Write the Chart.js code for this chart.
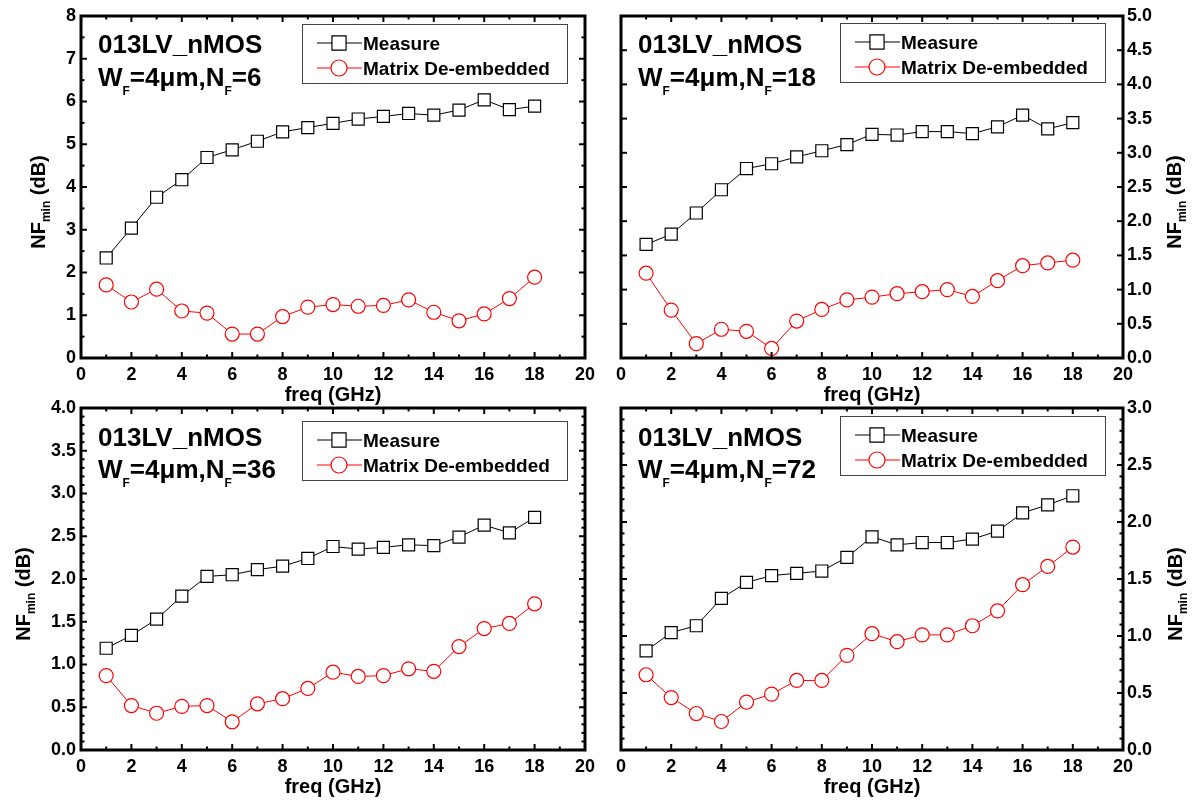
<!DOCTYPE html>
<html>
<head>
<meta charset="utf-8">
<script src="https://cdn.jsdelivr.net/npm/chart.js@4.4.1/dist/chart.umd.min.js"></script>
<style>
  html, body { margin: 0; padding: 0; background: #fff; width: 1204px; height: 807px; overflow: hidden; }
  canvas { position: absolute; }
</style>
</head>
<body>
<canvas id="c1" width="604" height="410" style="left:0px;top:0px"></canvas>
<canvas id="c2" width="604" height="410" style="left:600px;top:0px"></canvas>
<canvas id="c3" width="604" height="417" style="left:0px;top:390px"></canvas>
<canvas id="c4" width="604" height="417" style="left:600px;top:390px"></canvas>
<script>
// ---------------- data ----------------
const freqGHz = [1, 2, 3, 4, 5, 6, 7, 8, 9, 10, 11, 12, 13, 14, 15, 16, 17, 18];

const measureNF6  = [2.34, 3.04, 3.76, 4.17, 4.69, 4.87, 5.07, 5.29, 5.39, 5.49, 5.59, 5.65, 5.72, 5.68, 5.80, 6.04, 5.81, 5.89];
const deembedNF6  = [1.71, 1.31, 1.61, 1.10, 1.05, 0.56, 0.56, 0.97, 1.19, 1.25, 1.21, 1.23, 1.36, 1.07, 0.87, 1.03, 1.39, 1.89];

const measureNF18 = [1.66, 1.81, 2.12, 2.46, 2.77, 2.84, 2.94, 3.03, 3.12, 3.27, 3.26, 3.31, 3.31, 3.28, 3.38, 3.55, 3.35, 3.44];
const deembedNF18 = [1.24, 0.70, 0.21, 0.42, 0.39, 0.14, 0.54, 0.71, 0.85, 0.89, 0.94, 0.97, 1.00, 0.90, 1.13, 1.35, 1.39, 1.43];

const measureNF36 = [1.19, 1.34, 1.53, 1.80, 2.03, 2.05, 2.11, 2.15, 2.24, 2.38, 2.35, 2.37, 2.40, 2.39, 2.49, 2.63, 2.54, 2.72];
const deembedNF36 = [0.87, 0.52, 0.43, 0.51, 0.52, 0.33, 0.54, 0.60, 0.72, 0.91, 0.86, 0.87, 0.95, 0.92, 1.21, 1.42, 1.48, 1.71];

const measureNF72 = [0.87, 1.03, 1.09, 1.33, 1.47, 1.53, 1.55, 1.57, 1.69, 1.87, 1.80, 1.82, 1.82, 1.85, 1.92, 2.08, 2.15, 2.23];
const deembedNF72 = [0.66, 0.46, 0.32, 0.25, 0.42, 0.49, 0.61, 0.61, 0.83, 1.02, 0.95, 1.01, 1.01, 1.09, 1.22, 1.45, 1.61, 1.78];

const xTicks      = [0, 2, 4, 6, 8, 10, 12, 14, 16, 18, 20];
const yTicksNF6   = [0, 1, 2, 3, 4, 5, 6, 7, 8];
const yTicksNF18  = [0, 0.5, 1.0, 1.5, 2.0, 2.5, 3.0, 3.5, 4.0, 4.5, 5.0];
const yTicksNF36  = [0, 0.5, 1.0, 1.5, 2.0, 2.5, 3.0, 3.5, 4.0];
const yTicksNF72  = [0, 0.5, 1.0, 1.5, 2.0, 2.5, 3.0];

const seriesNames = ['Measure', 'Matrix De-embedded'];
const deviceName  = '013LV_nMOS';
const xTitle      = 'freq (GHz)';

// ---------------- layout / style ----------------
const FONT = "'Liberation Sans', Arial, Helvetica, sans-serif";
const Y_W = 60, Y_W_R = 70, X_H = 40;

const panels = [
  { id: 'c1', w: 604, h: 410, area: { l: 81, r: 585, t: 16, b: 358 }, right: false,
    measure: measureNF6, deembed: deembedNF6, yTicks: yTicksNF6, minor: 0.5, dec: 0, nf: '6',
    legDy: 8, annDy: 37, yTitleX: 39 },
  { id: 'c2', w: 604, h: 410, area: { l: 21, r: 523, t: 16, b: 358 }, right: true,
    measure: measureNF18, deembed: deembedNF18, yTicks: yTicksNF18, minor: 0.5, dec: 1, nf: '18',
    legDy: 7, annDy: 37, yTitleX: 575 },
  { id: 'c3', w: 604, h: 417, area: { l: 81, r: 585, t: 18, b: 360 }, right: false,
    measure: measureNF36, deembed: deembedNF36, yTicks: yTicksNF36, minor: 0.1, dec: 1, nf: '36',
    legDy: 13, annDy: 38, yTitleX: 24 },
  { id: 'c4', w: 604, h: 417, area: { l: 21, r: 523, t: 18, b: 360 }, right: true,
    measure: measureNF72, deembed: deembedNF72, yTicks: yTicksNF72, minor: 0.1, dec: 1, nf: '72',
    legDy: 8, annDy: 38, yTitleX: 576 }
];

function drawMarker(ctx, style, x, y, r, stroke) {
  ctx.save();
  ctx.fillStyle = '#fff';
  ctx.strokeStyle = stroke;
  ctx.lineWidth = 1.2;
  ctx.beginPath();
  if (style === 'rect') {
    const s = r * Math.SQRT1_2;
    ctx.rect(x - s, y - s, 2 * s, 2 * s);
  } else {
    ctx.arc(x, y, r, 0, Math.PI * 2);
  }
  ctx.fill();
  ctx.stroke();
  ctx.restore();
}

function makeDeco(p) {
  return {
    id: 'deco',
    afterDraw(chart) {
      const ctx = chart.ctx;
      const a = chart.chartArea;
      const xs = chart.scales.x, ys = chart.scales.y;
      ctx.save();

      // inward tick marks on all four sides
      ctx.strokeStyle = '#000';
      ctx.lineWidth = 2;
      const seg = (x1, y1, x2, y2) => { ctx.beginPath(); ctx.moveTo(x1, y1); ctx.lineTo(x2, y2); ctx.stroke(); };
      for (let v = 0; v <= 20; v += 1) {
        const px = xs.getPixelForValue(v);
        const L = (v % 2 === 0) ? 6 : 3.5;
        seg(px, a.bottom, px, a.bottom - L);
        seg(px, a.top, px, a.top + L);
      }
      const yMax = p.yTicks[p.yTicks.length - 1];
      const n = Math.round(yMax / p.minor);
      for (let i = 0; i <= n; i++) {
        const v = i * p.minor;
        const isMajor = p.yTicks.some(t => Math.abs(t - v) < 1e-6);
        const py = ys.getPixelForValue(v);
        const L = isMajor ? 6 : 3.5;
        seg(a.left, py, a.left + L, py);
        seg(a.right, py, a.right - L, py);
      }

      // frame
      ctx.lineWidth = 3;
      ctx.strokeRect(a.left, a.top, a.right - a.left, a.bottom - a.top);

      // x title
      ctx.fillStyle = '#000';
      ctx.font = `bold 20px ${FONT}`;
      ctx.textAlign = 'center';
      ctx.textBaseline = 'alphabetic';
      ctx.fillText(xTitle, (a.left + a.right) / 2, a.bottom + 43);

      // y title: NF_min (dB), rotated
      ctx.save();
      const cy = (a.top + a.bottom) / 2 + 15;
      ctx.translate(p.yTitleX, cy);
      ctx.rotate(-Math.PI / 2);
      ctx.textAlign = 'left';
      ctx.textBaseline = 'middle';
      const big = `bold 20px ${FONT}`, small = `bold 12px ${FONT}`;
      ctx.font = big; const w1 = ctx.measureText('NF').width;
      ctx.font = small; const w2 = ctx.measureText('min').width;
      ctx.font = big; const w3 = ctx.measureText(' (dB)').width;
      let x0 = -(w1 + w2 + w3) / 2;
      ctx.font = big; ctx.fillText('NF', x0, 0); x0 += w1;
      ctx.font = small; ctx.fillText('min', x0, 8); x0 += w2;
      ctx.font = big; ctx.fillText(' (dB)', x0, 0);
      ctx.restore();

      // annotation
      ctx.textAlign = 'left';
      ctx.textBaseline = 'alphabetic';
      const ax = a.left + 17;
      const ay1 = a.top + p.annDy, ay2 = a.top + 70;
      const annBig = `bold 26px ${FONT}`, annSmall = `bold 12px ${FONT}`;
      ctx.font = annBig;
      ctx.fillText(deviceName, ax, ay1);
      const parts = [['W', 0], ['F', 1], ['=4\u03BCm,N', 0], ['F', 1], ['=' + p.nf, 0]];
      let cx = ax;
      for (const [t, sub] of parts) {
        ctx.font = sub ? annSmall : annBig;
        ctx.fillText(t, cx, sub ? ay2 + 9 : ay2);
        cx += ctx.measureText(t).width;
      }

      // legend
      const lw = 265, lh = 59;
      const lx = a.right - 18 - lw, ly = a.top + p.legDy;
      ctx.strokeStyle = '#444';
      ctx.lineWidth = 1;
      ctx.strokeRect(lx + 0.5, ly + 0.5, lw, lh);
      const dsets = chart.data.datasets;
      const rows = [ly + 19, ly + 44];
      dsets.forEach((ds, i) => {
        const yy = rows[i];
        ctx.strokeStyle = ds.borderColor;
        ctx.lineWidth = 1;
        seg(lx + 15, yy, lx + 60, yy);
        drawMarker(ctx, ds.pointStyle, lx + 37, yy, i === 0 ? 10 : 8, ds.borderColor);
        ctx.fillStyle = '#000';
        ctx.font = `bold 19px ${FONT}`;
        ctx.textBaseline = 'alphabetic';
        ctx.fillText(ds.label, lx + 61, yy + 6.5);
      });

      ctx.restore();
    }
  };
}

function buildChart(p) {
  const a = p.area;
  const yW = p.right ? Y_W_R : Y_W;
  const padding = p.right
    ? { left: a.l, right: p.w - a.r - yW, top: a.t, bottom: p.h - a.b - X_H }
    : { left: a.l - yW, right: p.w - a.r, top: a.t, bottom: p.h - a.b - X_H };
  const zeroPad = s => { s.paddingLeft = 0; s.paddingRight = 0; s.paddingTop = 0; s.paddingBottom = 0; };
  const tickFont = { family: FONT, size: 18, weight: 'bold' };

  new Chart(document.getElementById(p.id), {
    type: 'line',
    data: {
      datasets: [
        {
          label: seriesNames[0],
          data: freqGHz.map((f, i) => ({ x: f, y: p.measure[i] })),
          borderColor: '#000000', borderWidth: 1,
          pointStyle: 'rect', pointRadius: 8.5, pointBorderWidth: 1.2,
          pointBackgroundColor: '#ffffff', pointBorderColor: '#000000',
          tension: 0, fill: false
        },
        {
          label: seriesNames[1],
          data: freqGHz.map((f, i) => ({ x: f, y: p.deembed[i] })),
          borderColor: '#ff0000', borderWidth: 1,
          pointStyle: 'circle', pointRadius: 7, pointBorderWidth: 1.2,
          pointBackgroundColor: '#ffffff', pointBorderColor: '#ff0000',
          tension: 0, fill: false
        }
      ]
    },
    options: {
      responsive: false,
      animation: false,
      devicePixelRatio: 1,
      events: [],
      layout: { padding },
      plugins: { legend: { display: false }, tooltip: { enabled: false }, title: { display: false } },
      scales: {
        x: {
          type: 'linear', position: 'bottom', min: 0, max: 20,
          grid: { display: false, drawTicks: false }, border: { display: false },
          afterBuildTicks: s => { s.ticks = xTicks.map(v => ({ value: v })); },
          ticks: { font: tickFont, color: '#000', padding: 6, maxRotation: 0, autoSkip: false,
                   callback: v => String(v) },
          afterFit: s => { zeroPad(s); s.height = X_H; }
        },
        y: {
          type: 'linear', position: p.right ? 'right' : 'left',
          min: 0, max: p.yTicks[p.yTicks.length - 1],
          grid: { display: false, drawTicks: false }, border: { display: false },
          afterBuildTicks: s => { s.ticks = p.yTicks.map(v => ({ value: v })); },
          ticks: { font: tickFont, color: '#000', padding: p.right ? 4 : 5, autoSkip: false,
                   callback: v => Number(v).toFixed(p.dec) },
          afterFit: s => { zeroPad(s); s.width = yW; }
        }
      }
    },
    plugins: [makeDeco(p)]
  });
}

panels.forEach(buildChart);
</script>
</body>
</html>
